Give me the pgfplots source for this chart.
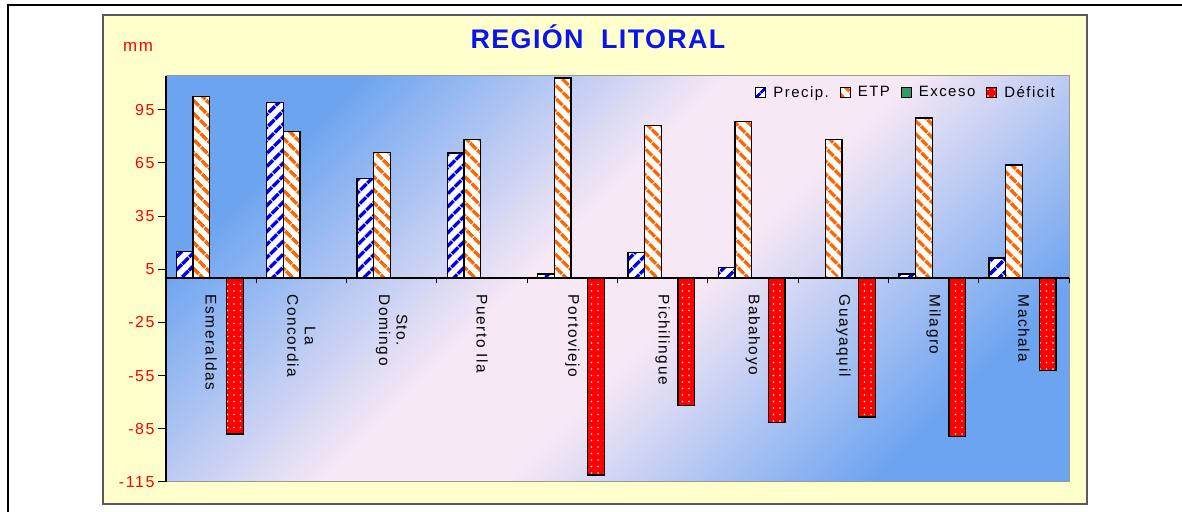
\documentclass[border=0pt]{standalone}
\usepackage{fontspec}
\setmainfont{Liberation Sans}[LetterSpace=10]
\newfontfamily\titlefont{Liberation Sans}[LetterSpace=5]
\usepackage{pgfplots}
\pgfplotsset{compat=1.18}
\usetikzlibrary{patterns.meta}

\definecolor{chartyellow}{HTML}{FFFFCC}
\definecolor{bgblue}{HTML}{6CA4F0}
\definecolor{bgpink}{HTML}{F7E8F5}
\definecolor{precblue}{HTML}{0000F0}
\definecolor{etporange}{HTML}{FF6600}
\definecolor{excgreen}{HTML}{339966}
\definecolor{defred}{HTML}{FF0000}
\definecolor{titleblue}{HTML}{0A14F0}

\pgfdeclarehorizontalshading{plotbg}{100bp}{color(0bp)=(bgblue); color(25bp)=(bgblue); color(45bp)=(bgpink); color(55bp)=(bgpink); color(75bp)=(bgblue); color(100bp)=(bgblue)}

\begin{document}
\begin{tikzpicture}
\useasboundingbox (0,0) rectangle (1182bp,512bp);
\fill[white] (0,0) rectangle (1182bp,512bp);
% outer frame (only top and left visible)
\draw[black, line width=2bp] (8bp,0) -- (8bp,507bp) -- (1182bp,507bp);
% chart area
\draw[fill=chartyellow, draw=black!65, line width=1.5bp] (103bp,8bp) rectangle (1087bp,497bp);
\node[anchor=base, text=titleblue, font=\titlefont\fontsize{27}{30}\selectfont\bfseries] at (598bp,463bp) {REGIÓN\ \ LITORAL};
\node[anchor=base west, inner sep=0pt, text=red, font=\fontsize{17}{20}\selectfont] at (123bp,460bp) {mm};
% plot area background
\shade[shading=plotbg, shading angle=-45] (166bp,30bp) rectangle (1069bp,436bp);
\draw[gray!80, line width=1bp] (166bp,30bp) rectangle (1069bp,436bp);

\begin{axis}[
    at={(166bp,30bp)}, anchor=south west,
    scale only axis, width=903bp, height=406bp,
    xmin=-0.5, xmax=9.5, ymin=-115, ymax=114,
    ybar, bar width=0.185,
    legend image code/.code={\draw[#1, line width=1bp] (0bp,-5bp) rectangle (10bp,5bp);},
    axis x line=middle, axis y line=left,
    axis line style={-, black, line width=1.3bp},
    tick align=outside,
    major tick length=8bp, minor tick length=4.5bp,
    tick style={black, line width=1bp},
    ytick={-115,-85,...,95},
    yticklabels={-115,-85,-55,-25,5,35,65,95},
    yticklabel style={text=red, font=\fontsize{16}{18}\selectfont},
    xtick={0,...,9},
    major x tick style={draw=none},
    minor xtick={-0.5,0.5,...,9.5},
    xticklabels={Esmeraldas,{La\\Concordia},{Sto.\\Domingo},Puerto Ila,Portoviejo,Pichilingue,Babahoyo,Guayaquil,Milagro,Machala},
    xticklabel style={rotate=-90, anchor=west, align=center, xshift=5bp, font=\fontsize{15.5}{17.5}\selectfont},
    legend style={at={(0.99,0.985)}, anchor=north east, draw=none, fill=none,
        font=\fontsize{15}{17}\selectfont,
        /tikz/every odd column/.append style={column sep=5bp},
        /tikz/every even column/.append style={column sep=9bp}},
    legend columns=-1,
    every axis plot/.append style={line width=1.3bp, draw=black},
]
% Precip.
\addplot[bar shift=-0.2925, fill=white,
    postaction={pattern={Lines[angle=45, distance=10bp, line width=4bp]}, pattern color=precblue, draw=black}]
    coordinates {(0,15) (1,99) (2,56) (3,70.5) (4,2.4) (5,14.4) (6,5.8) (7,0) (8,2.4) (9,11.3)};
% ETP
\addplot[bar shift=-0.1075, fill=white,
    postaction={pattern={Lines[angle=-45, distance=10bp, line width=4bp]}, pattern color=etporange, draw=black}]
    coordinates {(0,102.3) (1,82.8) (2,71) (3,78) (4,112.8) (5,85.9) (6,88.2) (7,78) (8,90.3) (9,63.8)};
% Exceso
\addplot[bar shift=0.0775, fill=excgreen]
    coordinates {(0,0) (1,0) (2,0) (3,0) (4,0) (5,0) (6,0) (7,0) (8,0) (9,0)};
% Deficit
\addplot[bar shift=0.2625, fill=defred,
    postaction={pattern={Dots[radius=0.8bp, distance=6.5bp]}, pattern color=white, draw=black}]
    coordinates {(0,-88) (1,0) (2,0) (3,0) (4,-111) (5,-71.7) (6,-81.6) (7,-78.3) (8,-89.2) (9,-52)};
\legend{Precip.,ETP,Exceso,Déficit}
\end{axis}
\end{tikzpicture}
\end{document}
